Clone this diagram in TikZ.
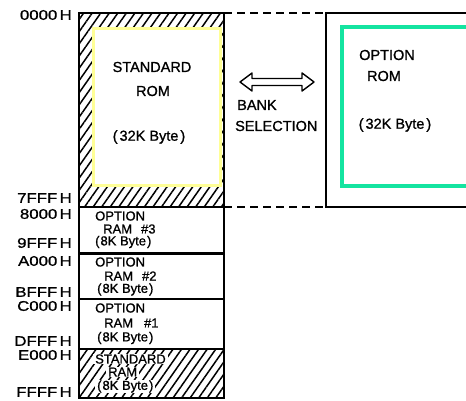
\documentclass[tikz,border=0pt]{standalone}
\usepackage{fontspec}
\setmainfont{Liberation Sans}
\newfontfamily\lblfont[FakeStretch=1.2,FakeBold=1]{Liberation Sans}
\newfontfamily\boxfont[FakeBold=1]{Liberation Sans}
\usetikzlibrary{patterns.meta}
\definecolor{romyellow}{RGB}{255,255,150}
\definecolor{romgreen}{RGB}{20,228,160}
\tikzset{
  hatch/.style={pattern={Lines[angle=55,distance=7pt,line width=1.5pt]},pattern color=black},
  frame/.style={draw=black,line width=1.8pt},
  addr/.style={font=\lblfont\fontsize{14}{14}\selectfont,anchor=east,inner sep=0pt},
  bigtxt/.style={font=\boxfont\fontsize{14.5}{15}\selectfont,inner sep=0pt},
  smalltxt/.style={font=\boxfont\fontsize{13}{13}\selectfont,inner sep=0pt,anchor=west},
  whitetxt/.style={font=\boxfont\fontsize{13}{13}\selectfont,inner xsep=2pt,inner ysep=0.8pt,fill=white},
  dashline/.style={draw=black,line width=1.4pt,dash pattern=on 8pt off 5pt},
}
\begin{document}
\begin{tikzpicture}[x=1pt,y=-1pt]
\useasboundingbox (0,0) rectangle (466,401);
% coordinates
\coordinate (romTL) at (79,13);
\coordinate (romBR) at (224,207);
\coordinate (optTL) at (326,13);
\coordinate (optBL) at (326,207);
\coordinate (optTR) at (470,13);
\coordinate (optBR) at (470,207);
% Standard ROM hatched block
\fill[hatch] (romTL) rectangle (romBR);
\fill[white] (92,27) rectangle (222,187);
\draw[romyellow,line width=3.5pt] (93.5,28.5) rectangle (220.5,185.5);
\draw[frame] (romTL) rectangle (romBR);
% RAM blocks
\draw[frame] (79,207) rectangle (224,253);
\draw[frame] (79,254) rectangle (224,299);
\draw[frame] (79,299) rectangle (224,349);
\fill[hatch] (79,349) rectangle (224,398);
\draw[frame] (79,349) rectangle (224,398);
% Option ROM block
\draw[frame] (optTR) -- (optTL) -- (optBL) -- (optBR);
\draw[romgreen,line width=4.5pt] (342,27) rectangle (475,186);
% dashed connectors
\draw[dashline] (224,13) -- (optTL);
\draw[dashline] (224,207) -- (optBL);
% texts standard rom
\node[bigtxt] (stdrom1) at (152,67) {STANDARD};
\node[bigtxt] (stdrom2) at (153,91) {ROM};
\node[bigtxt] (stdrom3) at (149,137) {(\hspace{2pt}32K Byte\hspace{2pt})};
% option rom
\node[bigtxt] (optrom1) at (387,55) {OPTION};
\node[bigtxt] (optrom2) at (384,76) {ROM};
\node[bigtxt] (optrom3) at (395,125) {(\hspace{2pt}32K Byte\hspace{2pt})};
% bank selection
\node[bigtxt,anchor=west] (bank1) at (237,105) {BANK};
\node[bigtxt,anchor=west] (bank2) at (235,126) {SELECTION};
\draw[line width=1.4pt,line join=round,fill=white]
  (240,82) -- (252,73) -- (252,78.5) -- (302,78.5) -- (302,73) -- (314,82)
  -- (302,91) -- (302,85.5) -- (252,85.5) -- (252,91) -- cycle;
% option RAM texts
\node[smalltxt] (r3a) at (95,216) {OPTION};
\node[smalltxt] (r3b) at (103,229) {RAM\hspace{9pt}\#3};
\node[smalltxt] (r3c) at (95,242) {(\hspace{1pt}8K Byte\hspace{1pt})};
\node[smalltxt] (r2a) at (95,262) {OPTION};
\node[smalltxt] (r2b) at (104,276) {RAM\hspace{9pt}\#2};
\node[smalltxt] (r2c) at (97,289.5) {(\hspace{1pt}8K Byte\hspace{1pt})};
\node[smalltxt] (r1a) at (95,308) {OPTION};
\node[smalltxt] (r1b) at (104,323) {RAM\hspace{11pt}\#1};
\node[smalltxt] (r1c) at (97,338) {(\hspace{1pt}8K Byte\hspace{1pt})};
% standard RAM texts
\node[whitetxt,anchor=west] (sr1) at (93,359) {STANDARD};
\node[whitetxt,anchor=west] (sr2) at (106,372) {RAM};
\node[whitetxt,anchor=west] (sr3) at (95,386.5) {(\hspace{1pt}8K Byte\hspace{1pt})};
% address labels
\node[addr] (a0) at (72,15) {0000\,H};
\node[addr] (a1) at (72,198) {7FFF\,H};
\node[addr] (a2) at (72,214) {8000\,H};
\node[addr] (a3) at (72,243) {9FFF\,H};
\node[addr] (a4) at (72,261) {A000\,H};
\node[addr] (a5) at (72,292) {BFFF\,H};
\node[addr] (a6) at (72,306) {C000\,H};
\node[addr] (a7) at (72,341) {DFFF\,H};
\node[addr] (a8) at (72,355) {E000\,H};
\node[addr] (a9) at (72,392) {FFFF\,H};
\end{tikzpicture}
\end{document}
